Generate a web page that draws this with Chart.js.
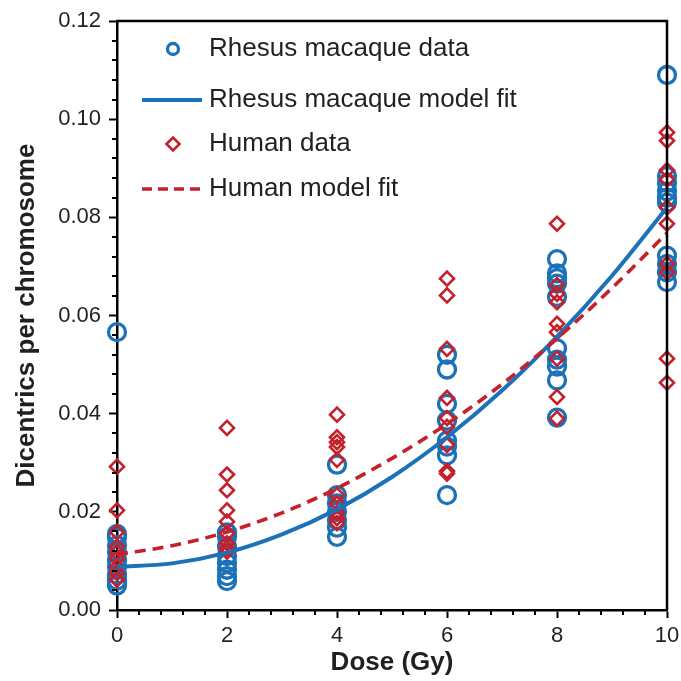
<!DOCTYPE html>
<html><head><meta charset="utf-8">
<script src="https://cdn.jsdelivr.net/npm/chart.js@4/dist/chart.umd.min.js"></script>
<style>html,body{margin:0;padding:0;background:#fff}#wrap{width:681px;height:681px;position:relative}</style>
</head><body><div id="wrap"><canvas id="c"></canvas></div>
<script>
// ---- data ----
const doses = [0, 2, 4, 6, 8, 10];
const rhesusData = [
  [0.0566, 0.0155, 0.0148, 0.0132, 0.0118, 0.0102, 0.0088, 0.0072, 0.0060, 0.0050],
  [0.0158, 0.0149, 0.0129, 0.0110, 0.0096, 0.0082, 0.0069, 0.0059],
  [0.0296, 0.0234, 0.0217, 0.0200, 0.0183, 0.0168, 0.0149],
  [0.0520, 0.0490, 0.0420, 0.0386, 0.0345, 0.0333, 0.0315, 0.0234],
  [0.0715, 0.0686, 0.0676, 0.0665, 0.0638, 0.0533, 0.0510, 0.0496, 0.0468, 0.0392],
  [0.1090, 0.0884, 0.0870, 0.0853, 0.0840, 0.0830, 0.0722, 0.0705, 0.0688, 0.0668]
];
const humanData = [
  [0.0292, 0.0203, 0.0159, 0.0129, 0.0118, 0.0105, 0.0088, 0.0075, 0.0062],
  [0.0371, 0.0276, 0.0244, 0.0203, 0.0180, 0.0156, 0.0136, 0.0126, 0.0119],
  [0.0398, 0.0352, 0.0342, 0.0332, 0.0306, 0.0234, 0.0217, 0.0198, 0.0187, 0.0177],
  [0.0675, 0.0641, 0.0532, 0.0432, 0.0391, 0.0373, 0.0336, 0.0283, 0.0278],
  [0.0787, 0.0662, 0.0644, 0.0627, 0.0583, 0.0566, 0.0512, 0.0434, 0.0390],
  [0.0973, 0.0956, 0.0896, 0.0877, 0.0820, 0.0787, 0.0705, 0.0688, 0.0512, 0.0463]
];
const fitDose   = [0, 1, 2, 3, 4, 5, 6, 7, 8, 9, 10];
const rhesusFit = [0.0088, 0.0095, 0.0117, 0.0154, 0.0205, 0.0271, 0.0352, 0.0447, 0.0557, 0.0681, 0.0820];
const humanFit  = [0.0113, 0.0131, 0.0159, 0.0198, 0.0248, 0.0309, 0.0379, 0.0460, 0.0553, 0.0656, 0.0768];
const xTickLabels = ['0', '2', '4', '6', '8', '10'];
const yTickLabels = ['0.00', '0.02', '0.04', '0.06', '0.08', '0.10', '0.12'];
const seriesNames = ['Rhesus macaque data', 'Rhesus macaque model fit', 'Human data', 'Human model fit'];
const xTitle = 'Dose (Gy)';
const yTitle = 'Dicentrics per chromosome';

// ---- styles ----
const BLUE = '#1c72b8';
const RED = '#c4212d';
const FONT = "'Liberation Sans', Arial, Helvetica, sans-serif";
const TEXT = '#231f20';

const toPoints = (groups) => groups.flatMap((vals, i) => vals.map(v => ({ x: doses[i], y: v })));
const toLine = (xs, ys) => xs.map((x, i) => ({ x, y: ys[i] }));

const minorTicks = {
  id: 'minorTicks',
  afterDraw(chart) {
    const ctx = chart.ctx, xs = chart.scales.x, ys = chart.scales.y, a = chart.chartArea;
    ctx.save();
    ctx.strokeStyle = '#000'; ctx.lineWidth = 2;
    ctx.beginPath();
    for (let i = 0; i <= 25; i++) {
      if (i % 5 === 0) continue;
      const px = Math.round(xs.getPixelForValue(i * 0.4));
      ctx.moveTo(px, a.bottom); ctx.lineTo(px, a.bottom + 5);
    }
    for (let i = 0; i <= 30; i++) {
      if (i % 5 === 0) continue;
      const py = Math.round(ys.getPixelForValue(i * 0.004));
      ctx.moveTo(a.left, py); ctx.lineTo(a.left - 5, py);
    }
    ctx.stroke();
    ctx.restore();
  }
};

const frame = {
  id: 'frame',
  afterDatasetsDraw(chart) {
    const ctx = chart.ctx, a = chart.chartArea;
    ctx.save();
    ctx.strokeStyle = '#000'; ctx.lineWidth = 2.5;
    ctx.beginPath();
    ctx.moveTo(a.left - 1, a.top); ctx.lineTo(a.right, a.top); ctx.lineTo(a.right, a.bottom);
    ctx.stroke();
    ctx.restore();
  }
};

const legendBox = {
  id: 'legendBox',
  afterDraw(chart) {
    const ctx = chart.ctx, a = chart.chartArea;
    const mx = a.left + 56, tx = a.left + 92;
    const rows = [a.top + 28, a.top + 79, a.top + 123, a.top + 168];
    ctx.save();
    ctx.font = '26px ' + FONT;
    ctx.fillStyle = TEXT; ctx.textBaseline = 'middle'; ctx.textAlign = 'left';
    seriesNames.forEach((n, i) => ctx.fillText(n, tx, rows[i]));
    // markers
    ctx.fillStyle = 'rgba(0,0,0,0)';
    ctx.strokeStyle = BLUE; ctx.lineWidth = 3.3;
    Chart.helpers.drawPoint(ctx, { pointStyle: 'circle', radius: 5.5, rotation: 0, borderWidth: 3.3 }, mx, rows[0]);
    ctx.strokeStyle = RED; ctx.lineWidth = 2.6;
    Chart.helpers.drawPoint(ctx, { pointStyle: 'rectRot', radius: 6.5, rotation: 0, borderWidth: 2.6 }, mx, rows[2]);
    ctx.lineWidth = 4; ctx.strokeStyle = BLUE;
    ctx.beginPath(); ctx.moveTo(mx - 31, rows[1]); ctx.lineTo(mx + 29, rows[1]); ctx.stroke();
    ctx.lineWidth = 3.6; ctx.strokeStyle = RED; ctx.setLineDash([10, 6]);
    ctx.beginPath(); ctx.moveTo(mx - 31, rows[3]); ctx.lineTo(mx + 29, rows[3]); ctx.stroke();
    ctx.restore();
  }
};

new Chart(document.getElementById('c'), {
  type: 'scatter',
  data: {
    datasets: [
      { label: seriesNames[3], type: 'line', data: toLine(fitDose, humanFit), borderColor: RED, borderWidth: 3.6,
        borderDash: [11, 7], pointRadius: 0, tension: 0.4, cubicInterpolationMode: 'monotone', fill: false, order: 1 },
      { label: seriesNames[1], type: 'line', data: toLine(fitDose, rhesusFit), borderColor: BLUE, borderWidth: 4,
        pointRadius: 0, tension: 0.4, cubicInterpolationMode: 'monotone', fill: false, order: 2 },
      { label: seriesNames[2], data: toPoints(humanData), pointStyle: 'rectRot', pointRadius: 7, pointBorderWidth: 2.6,
        borderColor: RED, backgroundColor: 'rgba(0,0,0,0)', clip: false, order: 3 },
      { label: seriesNames[0], data: toPoints(rhesusData), pointStyle: 'circle', pointRadius: 8.5, pointBorderWidth: 3.3,
        borderColor: BLUE, backgroundColor: 'rgba(0,0,0,0)', clip: false, order: 4 }
    ]
  },
  options: {
    responsive: true, maintainAspectRatio: false, animation: false,
    layout: { padding: { top: 21, right: 14, left: 0, bottom: 0 } },
    plugins: { legend: { display: false }, tooltip: { enabled: false } },
    scales: {
      x: {
        type: 'linear', min: 0, max: 10,
        ticks: { stepSize: 2, color: TEXT, font: { family: FONT, size: 22 }, padding: 5,
          callback: (v) => { const i = doses.indexOf(v); return i >= 0 ? xTickLabels[i] : ''; } },
        grid: { display: true, drawOnChartArea: false, drawTicks: true, tickLength: 8, tickWidth: 2, tickColor: '#000' },
        border: { display: true, color: '#000', width: 2.5 },
        title: { display: true, text: xTitle, color: TEXT, font: { family: FONT, size: 26, weight: 'bold' }, padding: { top: 0, bottom: 3 } },
        afterFit(s) { s.height = 71; s.paddingLeft = 0; s.paddingRight = 0; }
      },
      y: {
        type: 'linear', min: 0, max: 0.12,
        ticks: { stepSize: 0.02, color: TEXT, font: { family: FONT, size: 22 }, padding: 8,
          callback: (v) => yTickLabels[Math.round(v / 0.02)] },
        grid: { display: true, drawOnChartArea: false, drawTicks: true, tickLength: 8, tickWidth: 2, tickColor: '#000' },
        border: { display: true, color: '#000', width: 2.5 },
        title: { display: true, text: yTitle, color: TEXT, font: { family: FONT, size: 26, weight: 'bold' }, padding: { top: 11, bottom: 0 } },
        afterFit(s) { s.width = 117; s.paddingTop = 0; s.paddingBottom = 0; }
      }
    }
  },
  plugins: [minorTicks, frame, legendBox]
});
</script>
</body></html>
